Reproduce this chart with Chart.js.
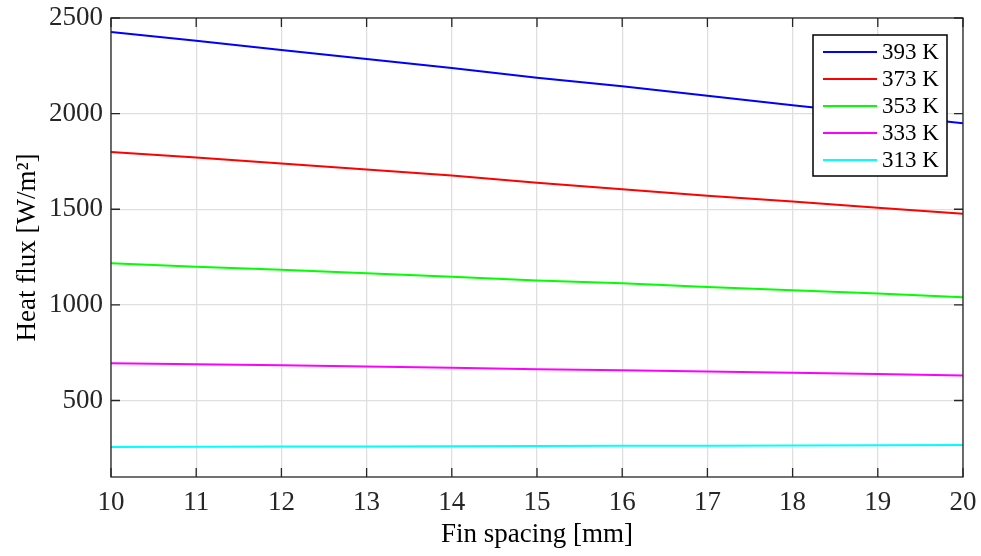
<!DOCTYPE html>
<html>
<head>
<meta charset="utf-8">
<script src="https://cdn.jsdelivr.net/npm/chart.js@4.4.1/dist/chart.umd.min.js"></script>
<style>
    html, body { margin: 0; padding: 0; background: #fff; }
    #wrap { width: 981px; height: 556px; }
</style>
</head>
<body>
<div id="wrap"><canvas id="fluxChart" width="981" height="556"></canvas></div>
<script>
// fin spacing [mm]
const xValues = [10, 11, 12, 13, 14, 15, 16, 17, 18, 19, 20];
// heat flux [W/m2] per wall temperature
const k393 = [2427, 2381, 2333, 2286, 2239, 2188, 2143, 2094, 2044, 1997, 1950];
const k373 = [1800, 1770, 1739, 1708, 1676, 1638, 1604, 1571, 1540, 1508, 1477];
const k353 = [1218, 1199, 1184, 1165, 1147, 1128, 1113, 1094, 1076, 1059, 1040];
const k333 = [695, 690, 684, 678, 671, 664, 658, 652, 645, 638, 631];
const k313 = [257, 258, 259, 260, 261, 262, 263, 264, 265, 266, 267];
const seriesLabels = ['393 K', '373 K', '353 K', '333 K', '313 K'];
const yTicks = [500, 1000, 1500, 2000, 2500];

const FONT = '"Liberation Serif", "DejaVu Serif", serif';
const AXIS = '#262626';

const toPoints = (vals) => vals.map((v, i) => ({ x: xValues[i], y: v }));

// MATLAB style box with inward ticks on all sides
const boxPlugin = {
    id: 'box',
    afterDatasetsDraw(chart) {
        const { ctx, chartArea: a, scales } = chart;
        ctx.save();
        ctx.strokeStyle = AXIS;
        ctx.lineWidth = 1.3;
        ctx.beginPath();
        scales.x.ticks.forEach(t => {
            const px = scales.x.getPixelForValue(t.value);
            ctx.moveTo(px, a.bottom); ctx.lineTo(px, a.bottom - 9);
            ctx.moveTo(px, a.top); ctx.lineTo(px, a.top + 9);
        });
        scales.y.ticks.forEach(t => {
            const py = scales.y.getPixelForValue(t.value);
            ctx.moveTo(a.left, py); ctx.lineTo(a.left + 9, py);
            ctx.moveTo(a.right, py); ctx.lineTo(a.right - 9, py);
        });
        ctx.stroke();
        ctx.strokeRect(a.left, a.top, a.right - a.left, a.bottom - a.top);
        ctx.restore();
    }
};

// legend box in the upper right corner
const legendPlugin = {
    id: 'innerLegend',
    afterDraw(chart) {
        const { ctx, chartArea: a } = chart;
        const w = 134, rowH = 27;
        const h = 6 + rowH * chart.data.datasets.length;
        const x0 = a.right - 16 - w, y0 = a.top + 17;
        ctx.save();
        ctx.fillStyle = '#fff';
        ctx.fillRect(x0, y0, w, h);
        ctx.strokeStyle = '#000';
        ctx.lineWidth = 1.5;
        ctx.strokeRect(x0, y0, w, h);
        ctx.font = '23px ' + FONT;
        ctx.textBaseline = 'middle';
        ctx.fillStyle = '#000';
        chart.data.datasets.forEach((ds, i) => {
            const cy = y0 + 17 + i * rowH;
            ctx.strokeStyle = ds.borderColor;
            ctx.lineWidth = 2;
            ctx.beginPath();
            ctx.moveTo(x0 + 10, cy);
            ctx.lineTo(x0 + 64, cy);
            ctx.stroke();
            ctx.fillText(ds.label, x0 + 69, cy + 1);
        });
        ctx.restore();
    }
};

const colors = ['#0000ff', '#ff0000', '#00ff00', '#ff00ff', '#00ffff'];
const seriesData = [k393, k373, k353, k333, k313];

const ctx = document.getElementById('fluxChart').getContext('2d');
const fluxChart = new Chart(ctx, {
    type: 'line',
    data: {
        datasets: seriesData.map((vals, i) => ({
            label: seriesLabels[i],
            data: toPoints(vals),
            borderColor: colors[i],
            backgroundColor: colors[i],
            borderWidth: 2,
            pointRadius: 0,
            tension: 0,
            fill: false
        }))
    },
    options: {
        responsive: false,
        animation: false,
        devicePixelRatio: 1,
        layout: { padding: { left: 0, top: 18, right: 18, bottom: 0 } },
        plugins: {
            legend: { display: false },
            tooltip: { enabled: false }
        },
        scales: {
            x: {
                type: 'linear',
                min: 10,
                max: 20,
                ticks: {
                    stepSize: 1,
                    padding: 10,
                    color: AXIS,
                    font: { family: FONT, size: 27 },
                    callback: v => String(v)
                },
                grid: { color: '#dfdfdf', lineWidth: 1.3, drawTicks: false },
                border: { display: false },
                title: {
                    display: true,
                    text: 'Fin spacing [mm]',
                    color: '#000',
                    font: { family: FONT, size: 27 },
                    padding: { top: 0, bottom: 5 }
                },
                afterFit(scale) {
                    scale.height = 79;
                    scale.paddingLeft = 0;
                    scale.paddingRight = 0;
                }
            },
            y: {
                type: 'linear',
                min: 100,
                max: 2500,
                afterBuildTicks(scale) {
                    scale.ticks = yTicks.map(v => ({ value: v }));
                },
                ticks: {
                    padding: 8,
                    color: AXIS,
                    font: { family: FONT, size: 27 },
                    callback: v => String(v)
                },
                grid: { color: '#dfdfdf', lineWidth: 1.3, drawTicks: false },
                border: { display: false },
                title: {
                    display: true,
                    text: 'Heat flux [W/m²]',
                    color: '#000',
                    font: { family: FONT, size: 27 },
                    padding: { top: 12, bottom: 0 }
                },
                afterFit(scale) {
                    scale.width = 111;
                    scale.paddingTop = 0;
                    scale.paddingBottom = 0;
                }
            }
        }
    },
    plugins: [boxPlugin, legendPlugin]
});
</script>
</body>
</html>
